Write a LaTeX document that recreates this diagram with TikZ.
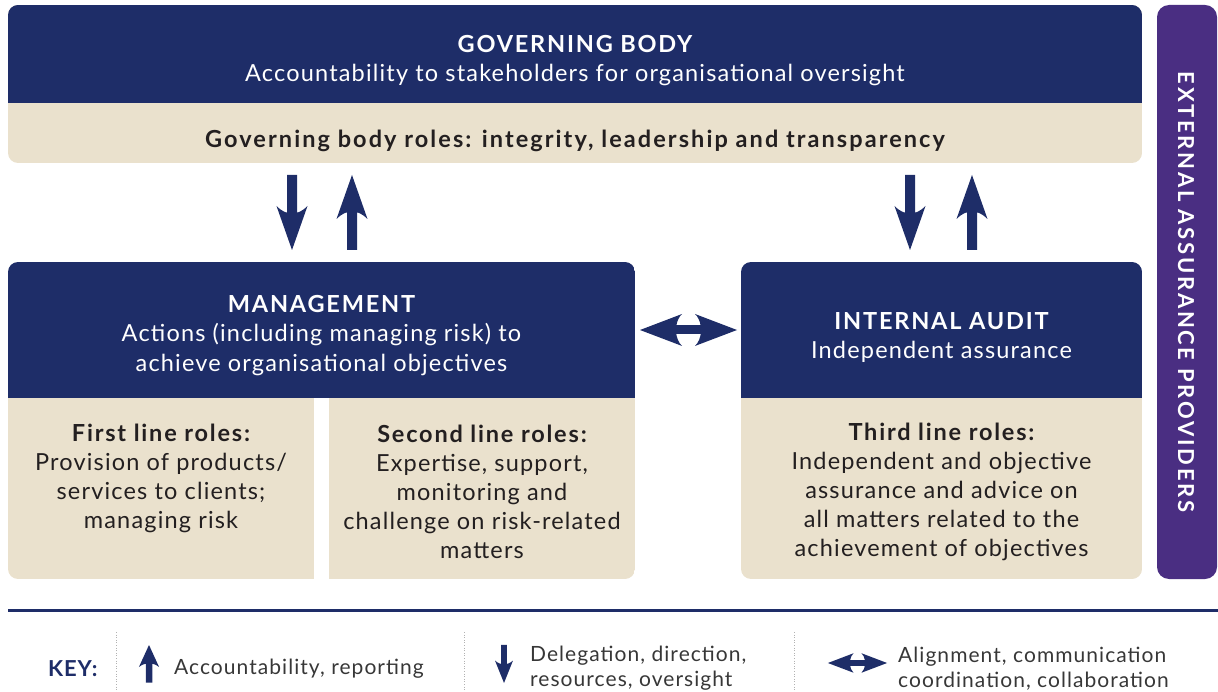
\documentclass[tikz,border=0pt]{standalone}
\usepackage{fontspec}
\setmainfont{Lato}[LetterSpace=5]
\definecolor{navy}{RGB}{30,45,104}
\definecolor{beige}{RGB}{234,225,205}
\definecolor{purp}{RGB}{74,46,130}
\definecolor{ink}{RGB}{35,31,32}
\definecolor{keyink}{RGB}{55,55,55}
\tikzset{
  blockarrow/.pic={\fill[navy] (0,0) -- (15.5,44) .. controls (10,38.5) and (6,37.5) .. (5,37.5) -- (5,75) -- (-5,75) -- (-5,37.5) .. controls (-6,37.5) and (-10,38.5) .. (-15.5,44) -- cycle;},
  dblarrow/.pic={
    \fill[navy] (-48.5,0) -- (-6.5,-16) arc[start angle=238.7, end angle=121.3, x radius=12.5, y radius=18.7] -- cycle;
    \fill[navy] (48.5,0) -- (6.5,-16) arc[start angle=-58.7, end angle=58.7, x radius=12.5, y radius=18.7] -- cycle;
    \fill[navy] (-12.5,-4.5) rectangle (12.5,4.5);},
  whitetxt/.style={text=white, inner sep=0pt, align=center, font=\fontsize{23.5}{29.5}\selectfont},
  inktxt/.style={text=ink, inner sep=0pt, align=center, font=\fontsize{23.5}{29}\selectfont},
  keytxt/.style={text=keyink, inner sep=0pt, align=left, anchor=west, font=\fontsize{21}{25}\selectfont},
  sep/.style={draw=gray!60, dotted, line width=0.6pt}
}
\newcommand{\hd}[1]{{\bfseries\addfontfeatures{LetterSpace=7.7}#1}}
\begin{document}
\begin{tikzpicture}[x=1pt,y=-1pt]
\useasboundingbox (0,0) rectangle (1218,692);
% Governing body
\begin{scope}
  \clip[rounded corners=10] (8,5) rectangle (1142,163);
  \fill[beige] (8,5) rectangle (1142,163);
  \fill[navy] (8,5) rectangle (1142,103);
\end{scope}
\node[whitetxt] (gov) at (575,60.5) {\hd{GOVERNING BODY}\\Accountability to stakeholders for organisational oversight};
\node[inktxt, font=\fontsize{23.5}{29}\selectfont\bfseries\addfontfeatures{LetterSpace=8.8}] (govroles) at (575,140.5) {Governing body roles: integrity, leadership and transparency};
% External
\fill[purp, rounded corners=12] (1157,5) rectangle (1217,579);
\node[text=white, rotate=-90, inner sep=0pt, font=\fontsize{22}{24}\selectfont\bfseries\addfontfeatures{LetterSpace=12.2}] (ext) at (1186,292) {EXTERNAL ASSURANCE PROVIDERS};
% Management
\begin{scope}
  \clip[rounded corners=10] (8,262) rectangle (635,579);
  \fill[navy] (8,262) rectangle (635,398);
  \fill[beige] (8,398) rectangle (314,579);
  \fill[beige] (329,398) rectangle (635,579);
\end{scope}
\node[whitetxt] (mgmt) at (321.5,335.5) {\hd{MANAGEMENT}\\Actions (including managing risk) to\\achieve organisational objectives};
\node[inktxt] (first) at (161,478) {\hd{First line roles:}\\Provision of products/\\services to clients;\\managing risk};
\node[inktxt] (second) at (482,492) {\hd{Second line roles:}\\Expertise, support,\\monitoring and\\challenge on risk-related\\matters};
% Internal audit
\begin{scope}
  \clip[rounded corners=10] (741,262) rectangle (1142,579);
  \fill[navy] (741,262) rectangle (1142,398);
  \fill[beige] (741,398) rectangle (1142,579);
\end{scope}
\node[whitetxt] (ia) at (941.5,337.5) {\hd{INTERNAL AUDIT}\\Independent assurance};
\node[inktxt] (third) at (941.5,492) {\hd{Third line roles:}\\Independent and objective\\assurance and advice on\\all matters related to the\\achievement of objectives};
% Arrows
\pic[rotate=180] at (292,250) {blockarrow};
\pic at (352,175) {blockarrow};
\pic[rotate=180] at (910,250) {blockarrow};
\pic at (972,175) {blockarrow};
\pic at (688.5,330) {dblarrow};
% Rule
\draw[navy, line width=3pt] (8,610) -- (1218,610);
% Key
\node[text=navy, inner sep=0pt, anchor=west, font=\fontsize{22}{24}\selectfont\bfseries\addfontfeatures{LetterSpace=4}] (key) at (48,669) {KEY:};
\draw[sep] (116,632) -- (116,692);
\draw[sep] (464,632) -- (464,692);
\draw[sep] (794,632) -- (794,692);
\pic[xscale=0.65, yscale=0.5] at (149,645) {blockarrow};
\node[keytxt] (k1) at (174,669) {Accountability, reporting};
\pic[rotate=180, xscale=0.58, yscale=0.51] at (504,683) {blockarrow};
\node[keytxt] (k2) at (530,668.5) {Delegation, direction,\\resources, oversight};
\pic[scale=0.61] at (857.5,663) {dblarrow};
\node[keytxt] (k3) at (898,668.5) {Alignment, communication\\coordination, collaboration};
\end{tikzpicture}
\end{document}
